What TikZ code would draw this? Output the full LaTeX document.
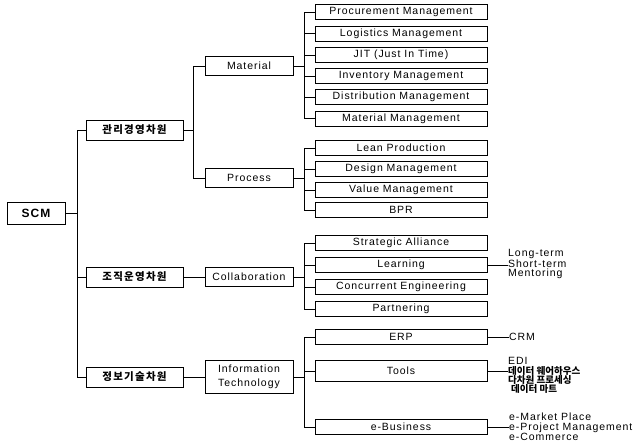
\documentclass[tikz,border=0pt]{standalone}
\usepackage{fontspec}
\setmainfont{Liberation Sans}[LetterSpace=9]
\newfontfamily\kr{Noto Sans CJK KR}[LetterSpace=12]
\newfontfamily\krs{Noto Sans CJK KR}
\usetikzlibrary{positioning,calc}
\tikzset{
    block/.style={rectangle, draw=black, line width=0.8pt, inner sep=1pt, text centered},
    root/.style={block, minimum width=58pt, minimum height=22pt, font=\fontsize{12}{14}\selectfont\bfseries},
    dimbox/.style={block, minimum width=97pt, minimum height=20pt, font=\kr\bfseries\fontsize{10.5}{12}\selectfont},
    part/.style={block, minimum width=88pt, minimum height=19pt, align=center, font=\fontsize{10.5}{13.5}\selectfont},
    item/.style={block, minimum width=172pt, minimum height=15pt, font=\fontsize{10.5}{11}\selectfont},
    note/.style={anchor=west, inner sep=0pt, align=left, font=\fontsize{10.5}{9.3}\selectfont},
    line/.style={line width=0.7pt},
}
\newcommand{\krnote}[1]{{\krs\bfseries\fontsize{9.5}{9.3}\selectfont #1}}

\begin{document}
\begin{tikzpicture}
        [x=1pt, y=-1pt]
        \useasboundingbox (0,0) rectangle (641,445);

        \node[root] (scm) at (36,213) {SCM};

        \node[dimbox] (mgmt) at (134.5,130) {관리경영차원};
        \node[dimbox] (org) at (134.5,277) {조직운영차원};
        \node[dimbox] (info) at (134.5,377) {정보기술차원};

        \node[part] (mat) at (249,66) {Material};
        \node[part] (proc) at (249,178) {Process};
        \node[part] (collab) at (249,277) {Collaboration};
        \node[part, minimum height=33pt] (it) at (249,377) {Information\\Technology};

        % material
        \node[item] (pm) at (401,12) {Procurement Management};
        \node[item] (lm) at (401,33.5) {Logistics Management};
        \node[item] (jit) at (401,55) {JIT (Just In Time)};
        \node[item] (im) at (401,76) {Inventory Management};
        \node[item] (dm) at (401,97) {Distribution Management};
        \node[item] (mm) at (401,118.5) {Material Management};

        % process
        \node[item] (lp) at (401,148) {Lean Production};
        \node[item] (desm) at (401,169) {Design Management};
        \node[item] (vm) at (401,190) {Value Management};
        \node[item] (bpr) at (401,210) {BPR};

        % collaboration
        \node[item] (sa) at (401,243) {Strategic Alliance};
        \node[item] (learn) at (401,265) {Learning};
        \node[item] (ce) at (401,287) {Concurrent Engineering};
        \node[item] (partner) at (401,309) {Partnering};

        % information technology
        \node[item] (erp) at (401,337) {ERP};
        \node[item, minimum height=21pt] (tools) at (401,371) {Tools};
        \node[item] (ebiz) at (401,427) {e-Business};

        \node[note] (terms) at (508,264) {Long-term\\Short-term\\Mentoring};
        \node[note] (crm) at (509,337) {CRM};
        \node[note] (tooltxt) at (508,375.6) {EDI\\\krnote{데이터 웨어하우스}\\\krnote{다차원 프로세싱}\\\hspace*{3pt}\krnote{데이터 마트}};
        \node[note] (ebtxt) at (509,427) {e-Market Place\\e-Project Management\\e-Commerce};

        \draw[line] (scm.east) -- ++(12,0) |- (mgmt.west);
        \draw[line] (scm.east) -- ++(12,0) |- (org.west);
        \draw[line] (scm.east) -- ++(12,0) |- (info.west);

        \draw[line] (mgmt.east) -- ++(10,0) |- (mat.west);
        \draw[line] (mgmt.east) -- ++(10,0) |- (proc.west);
        \draw[line] (org.east) -- (collab.west);
        \draw[line] (info.east) -- (it.west);

        \draw[line] (mat.east) -- ++(11,0) |- (pm.west);
        \draw[line] (mat.east) -- ++(11,0) |- (lm.west);
        \draw[line] (mat.east) -- ++(11,0) |- (jit.west);
        \draw[line] (mat.east) -- ++(11,0) |- (im.west);
        \draw[line] (mat.east) -- ++(11,0) |- (dm.west);
        \draw[line] (mat.east) -- ++(11,0) |- (mm.west);

        \draw[line] (proc.east) -- ++(11,0) |- (lp.west);
        \draw[line] (proc.east) -- ++(11,0) |- (desm.west);
        \draw[line] (proc.east) -- ++(11,0) |- (vm.west);
        \draw[line] (proc.east) -- ++(11,0) |- (bpr.west);

        \draw[line] (collab.east) -- ++(11,0) |- (sa.west);
        \draw[line] (collab.east) -- ++(11,0) |- (learn.west);
        \draw[line] (collab.east) -- ++(11,0) |- (ce.west);
        \draw[line] (collab.east) -- ++(11,0) |- (partner.west);

        \draw[line] (it.east) -- ++(11,0) |- (erp.west);
        \draw[line] (it.east) -- ++(11,0) |- (tools.west);
        \draw[line] (it.east) -- ++(11,0) |- (ebiz.west);

        \draw[line] (learn.east) -- (learn.east -| terms.west);
        \draw[line] (erp.east) -- (erp.east -| crm.west);
        \draw[line] (tools.east) -- (tools.east -| tooltxt.west);
        \draw[line] (ebiz.east) -- (ebiz.east -| ebtxt.west);

    \end{tikzpicture}
\end{document}
